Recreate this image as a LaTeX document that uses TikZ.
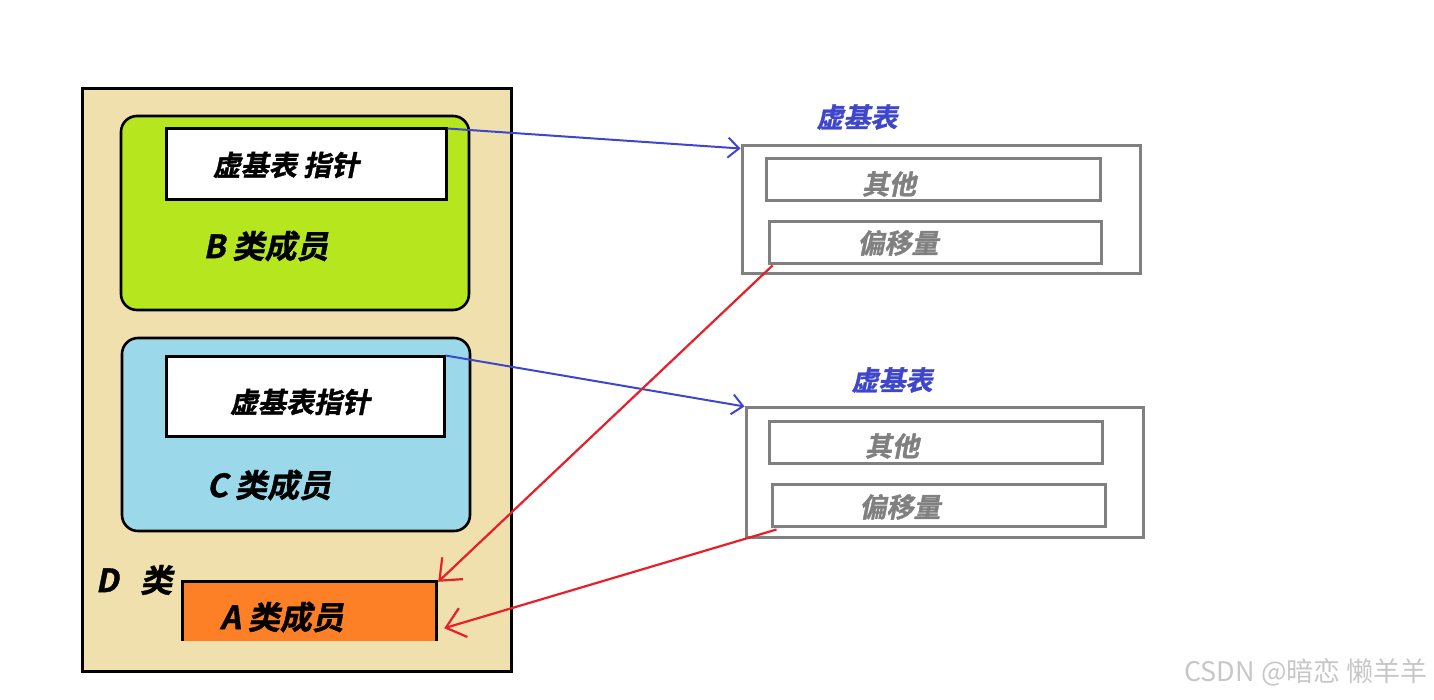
\documentclass[tikz,border=0pt]{standalone}
\usepackage{fontspec}
\usepackage{xcolor}
\usetikzlibrary{arrows.meta}
\usetikzlibrary{calc}
\newfontfamily\cjkbi{Noto Sans CJK SC Bold}[FakeSlant=0.2,FakeBold=1.2]
\newfontfamily\cjk{Noto Sans CJK SC}
\definecolor{dbeige}{RGB}{239,224,174}
\definecolor{bgreen}{RGB}{182,230,30}
\definecolor{cblue}{RGB}{155,217,234}
\definecolor{aorange}{RGB}{253,128,38}
\definecolor{vgray}{RGB}{128,128,128}
\definecolor{vblue}{RGB}{62,70,204}
\definecolor{vred}{RGB}{232,30,40}

\begin{document}
\begin{tikzpicture}[x=1pt,y=-1pt,
        box/.style={rectangle,inner sep=0pt,draw=black,line width=3pt},
        cls/.style={box,rounded corners=16pt,line width=2.6pt},
        vbt/.style={rectangle,inner sep=0pt,draw=vgray,line width=3pt},
        lbl/.style={font=\cjkbi\fontsize{32}{34}\selectfont,text=black},
        plbl/.style={font=\cjkbi\fontsize{28}{30}\selectfont,text=black},
        vlbl/.style={font=\cjkbi\fontsize{27}{29}\selectfont,text=vgray},
        vptr/.style={->,-{Straight Barb[length=11pt,width=20pt]},draw=vblue,line width=2pt},
        voff/.style={->,-{Straight Barb[length=18pt,width=30pt]},draw=vred,line width=2.2pt}]
        \useasboundingbox (0,0) rectangle (1434,699);

        % D class
        \node[box,fill=dbeige,minimum width=429pt,minimum height=583pt] (D) at (296.5,379.5) {};
        \node[cls,fill=bgreen,minimum width=348pt,minimum height=194pt] (B) at (295,213) {};
        \node[box,fill=white,minimum width=280pt,minimum height=71pt] (Bp) at (306,163.5) {};
        \node[cls,fill=cblue,minimum width=348pt,minimum height=193pt] (C) at (296,434.5) {};
        \node[box,fill=white,minimum width=278pt,minimum height=80pt] (Cp) at (305,396) {};
        \node[rectangle,inner sep=0pt,fill=aorange,minimum width=253pt,minimum height=59pt] (A) at (309.5,611.5) {};
        \draw[line width=3pt] (A.south west)--(A.north west)--(A.north east)--(A.south east);

        \node[plbl] (BpText) at (286,165) {虚基表 指针};
        \node[lbl] (BText) at (266,246) {B 类成员};
        \node[plbl] (CpText) at (300,402) {虚基表指针};
        \node[lbl] (CText) at (269,485) {C 类成员};
        \node[lbl] (DText) at (134,580) {D\ \ \ 类};
        \node[lbl] (AText) at (282,617) {A 类成员};

        % virtual base tables
        \node[vbt,minimum width=398pt,minimum height=128pt] (T1) at (941,209) {};
        \node[vbt,minimum width=334pt,minimum height=42pt] (T1a) at (933,179) {};
        \node[vbt,minimum width=332pt,minimum height=42pt] (T1b) at (935,242) {};
        \node[vbt,minimum width=397pt,minimum height=130pt] (T2) at (944.5,472) {};
        \node[vbt,minimum width=333pt,minimum height=42pt] (T2a) at (935.5,442) {};
        \node[vbt,minimum width=333pt,minimum height=42pt] (T2b) at (938.5,505) {};

        \node[vlbl,text=vblue] (T1Title) at (857,117) {虚基表};
        \node[vlbl,text=vblue] (T2Title) at (892,380) {虚基表};
        \node[vlbl] (T1aText) at (889,184) {其他};
        \node[vlbl] (T1bText) at (898,243) {偏移量};
        \node[vlbl] (T2aText) at (892,446) {其他};
        \node[vlbl] (T2bText) at (900,507) {偏移量};

        % pointers and offsets
        \draw[vptr] ($(Bp.north east)+(0,2)$)--($(T1.north west)+(0,5)$);
        \draw[vptr] ($(Cp.north east)+(0,1)$)--($(T2.north west)+(0,1)$);
        \draw[voff] ($(T1b.south west)+(5,1)$)--($(A.north east)+(2,0)$);
        \draw[voff] ($(T2b.south west)+(6,2)$)--($(A.south east)+(8,-13)$);

        \node[font=\cjk\fontsize{27}{29}\selectfont,text=black!22] (mark) at (1306,672) {CSDN @暗恋 懒羊羊};
    \end{tikzpicture}
\end{document}
